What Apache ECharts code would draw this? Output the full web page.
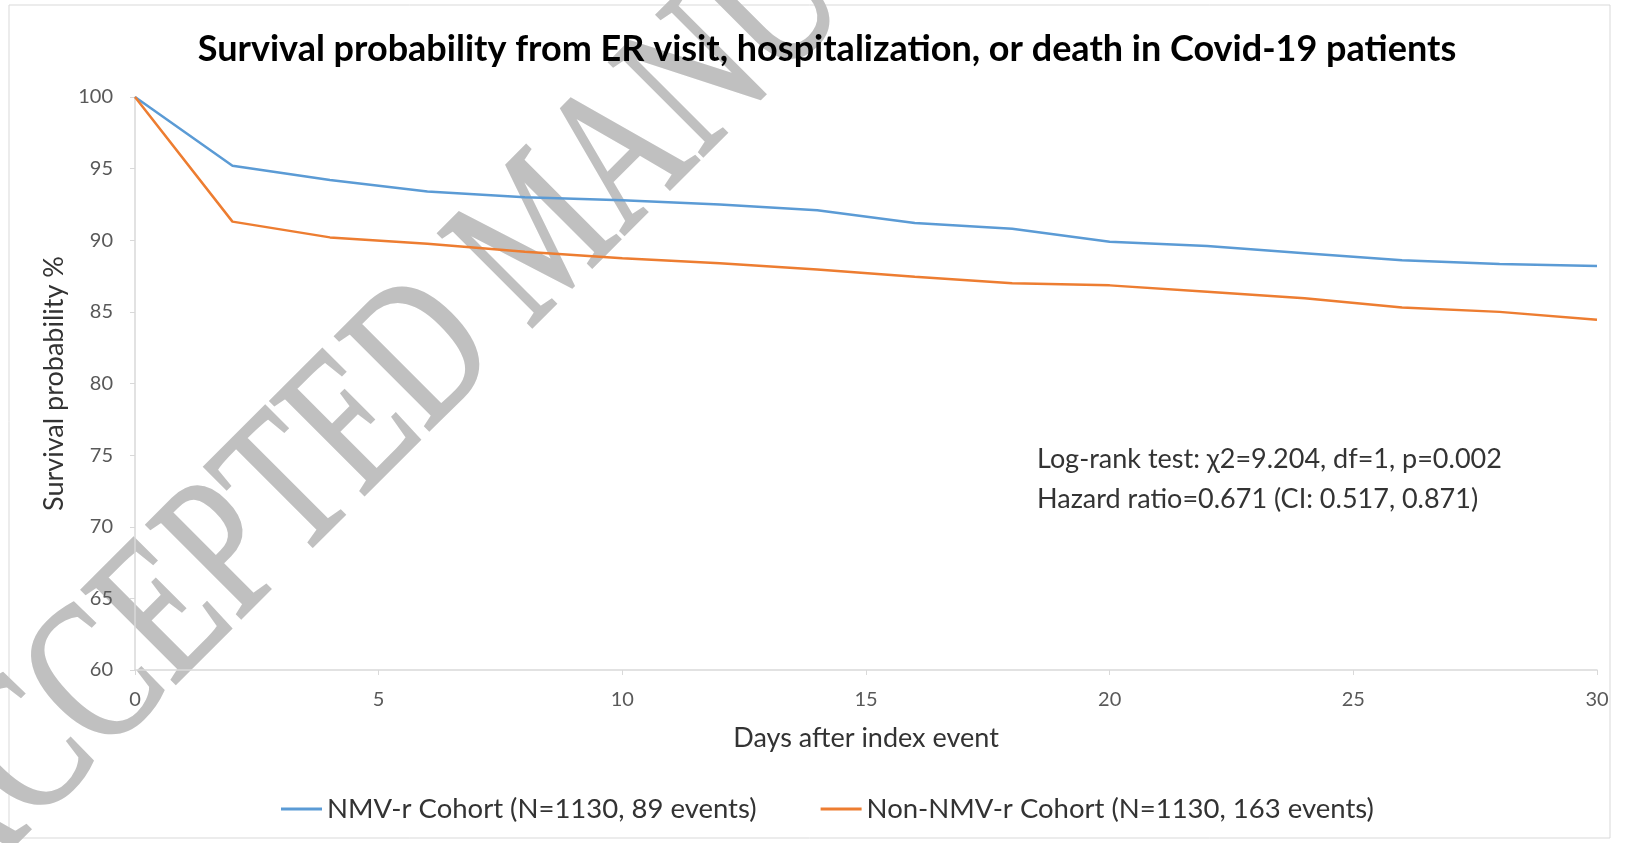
<!DOCTYPE html>
<html>
<head>
<meta charset="utf-8">
<script src="https://cdn.jsdelivr.net/npm/echarts@6/dist/echarts.min.js"></script>
<style>
html,body{margin:0;padding:0;background:#fff;}
#chart{width:1631px;height:843px;}
</style>
</head>
<body>
<div id="chart"></div>
<script>
// ---- data ----
var days = [0, 2, 4, 6, 8, 10, 12, 14, 16, 18, 20, 22, 24, 26, 28, 30];
var nmvr = [100, 95.2, 94.2, 93.4, 93.0, 92.8, 92.5, 92.1, 91.2, 90.8, 89.9, 89.6, 89.1, 88.6, 88.35, 88.2];
var nonNmvr = [100, 91.3, 90.2, 89.75, 89.2, 88.75, 88.4, 87.95, 87.45, 87.0, 86.85, 86.4, 85.95, 85.3, 85.0, 84.45];
var seriesNames = ['NMV-r Cohort (N=1130, 89 events)', 'Non-NMV-r Cohort (N=1130, 163 events)'];
var titleText = 'Survival probability from ER visit, hospitalization, or death in Covid-19 patients';
var xName = 'Days after index event';
var yName = 'Survival probability %';
var statLines = ['Log-rank test: \u03c72=9.204, df=1, p=0.002', 'Hazard ratio=0.671 (CI: 0.517, 0.871)'];
var watermark = 'ACCEPTED MANUSCRIPT';

function pairs(xs, ys) { return xs.map(function (x, i) { return [x, ys[i]]; }); }

var FONT = 'Lato';
var chart = echarts.init(document.getElementById('chart'), null, {renderer: 'canvas'});
chart.setOption({
  animation: false,
  backgroundColor: '#ffffff',
  title: {
    text: titleText,
    left: 822, top: 26, textAlign: 'center',
    textStyle: {fontFamily: FONT, fontWeight: 'bold', fontSize: 36, color: '#000000'}
  },
  legend: {
    data: seriesNames,
    left: 276, top: 790,
    icon: 'rect', itemWidth: 41, itemHeight: 3, itemGap: 64,
    textStyle: {fontFamily: FONT, fontSize: 27.5, color: '#333333'}
  },
  grid: {left: 135, right: 34, top: 97, bottom: 173},
  xAxis: {
    type: 'value', min: 0, max: 30, interval: 5,
    name: xName, nameLocation: 'middle', nameGap: 55,
    nameTextStyle: {fontFamily: FONT, fontSize: 27, color: '#333333'},
    axisLine: {show: true, lineStyle: {color: '#d9d9d9', width: 1.5}},
    axisTick: {show: true, length: 5, lineStyle: {color: '#d9d9d9'}},
    axisLabel: {fontFamily: FONT, fontSize: 20, color: '#595959', margin: 20},
    splitLine: {show: false}
  },
  yAxis: {
    type: 'value', min: 60, max: 100, interval: 5,
    name: yName, nameLocation: 'middle', nameGap: 64,
    nameTextStyle: {fontFamily: FONT, fontSize: 27, color: '#333333'},
    axisLine: {show: true, lineStyle: {color: '#d9d9d9', width: 1.5}},
    axisTick: {show: true, length: 5, lineStyle: {color: '#d9d9d9'}},
    axisLabel: {fontFamily: FONT, fontSize: 20, color: '#595959', margin: 22},
    splitLine: {show: false}
  },
  graphic: [
    {
      type: 'rect', silent: true, z: -10,
      shape: {x: 9, y: 5, width: 1601, height: 833},
      style: {fill: 'none', stroke: '#d9d9d9', lineWidth: 1}
    },
    {
      type: 'text', silent: true, z: 0,
      x: 546, y: 238, rotation: 45 * Math.PI / 180, scaleX: 1, scaleY: 1.35,
      style: {
        text: watermark, fill: '#c0c0c0', stroke: '#c0c0c0', lineWidth: 2,
        font: '150px "Liberation Serif"', align: 'center', verticalAlign: 'middle'
      }
    },
    {
      type: 'text', silent: true, z: 5,
      x: 1037, y: 459,
      style: {text: statLines[0], fill: '#333333', font: '27px Lato', align: 'left', verticalAlign: 'middle'}
    },
    {
      type: 'text', silent: true, z: 5,
      x: 1037, y: 499,
      style: {text: statLines[1], fill: '#333333', font: '27px Lato', align: 'left', verticalAlign: 'middle'}
    }
  ],
  series: [
    {
      name: seriesNames[0], type: 'line', data: pairs(days, nmvr),
      symbol: 'none', z: 3,
      lineStyle: {color: '#5b9bd5', width: 2.5}, itemStyle: {color: '#5b9bd5'}
    },
    {
      name: seriesNames[1], type: 'line', data: pairs(days, nonNmvr),
      symbol: 'none', z: 3,
      lineStyle: {color: '#ed7d31', width: 2.5}, itemStyle: {color: '#ed7d31'}
    }
  ]
});
</script>
</body>
</html>
